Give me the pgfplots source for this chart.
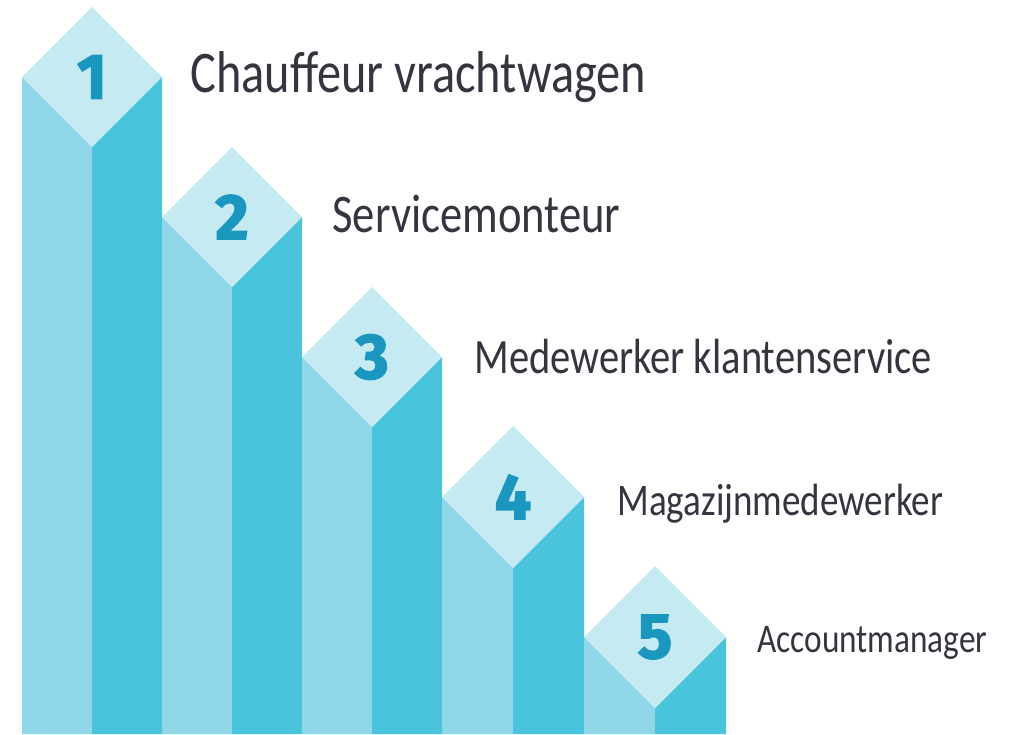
\documentclass[border=0pt]{standalone}
\usepackage{fontspec}
\setmainfont{Carlito}[FakeStretch=0.82]
\newfontfamily\numfont{Fira Sans}[BoldFeatures={FakeBold=2.5}]
\usepackage{pgfplots}
\pgfplotsset{compat=1.18}
\definecolor{faceL}{HTML}{8FD7E8}
\definecolor{faceR}{HTML}{4AC3DC}
\definecolor{faceT}{HTML}{C6EAF2}
\definecolor{numcol}{HTML}{1A97BF}
\definecolor{txt}{HTML}{34353F}
\tikzset{num/.style={text=numcol,font=\numfont\bfseries\fontsize{32}{32}\selectfont}}

\begin{document}
\begin{tikzpicture}
\begin{axis}[
  x=0.5pt,y=0.5pt,
  xmin=0,xmax=1015,ymin=0,ymax=734,
  hide axis,clip=false,
]
% full canvas
\path (axis cs:0,0) rectangle (axis cs:1015,734);
% column 1
\addplot[draw=none,fill=faceL] coordinates {(22,0)(22,657)(92,587)(92,0)};
\addplot[draw=none,fill=faceR] coordinates {(92,0)(92,587)(162,657)(162,0)};
\addplot[draw=none,fill=faceT] coordinates {(22,657)(92,727)(162,657)(92,587)};
% column 2
\addplot[draw=none,fill=faceL] coordinates {(162,0)(162,517)(232,447)(232,0)};
\addplot[draw=none,fill=faceR] coordinates {(232,0)(232,447)(302,517)(302,0)};
\addplot[draw=none,fill=faceT] coordinates {(162,517)(232,587)(302,517)(232,447)};
% column 3
\addplot[draw=none,fill=faceL] coordinates {(302,0)(302,377)(372,307)(372,0)};
\addplot[draw=none,fill=faceR] coordinates {(372,0)(372,307)(442,377)(442,0)};
\addplot[draw=none,fill=faceT] coordinates {(302,377)(372,447)(442,377)(372,307)};
% column 4
\addplot[draw=none,fill=faceL] coordinates {(442,0)(442,237)(513,166)(513,0)};
\addplot[draw=none,fill=faceR] coordinates {(513,0)(513,166)(584,237)(584,0)};
\addplot[draw=none,fill=faceT] coordinates {(442,237)(513,308)(584,237)(513,166)};
% column 5
\addplot[draw=none,fill=faceL] coordinates {(584,0)(584,97)(655,26)(655,0)};
\addplot[draw=none,fill=faceR] coordinates {(655,0)(655,26)(726,97)(726,0)};
\addplot[draw=none,fill=faceT] coordinates {(584,97)(655,168)(726,97)(655,26)};

% numbers
\node[num] at (axis cs:92,657) {1};
\node[num] at (axis cs:232,517) {2};
\node[num] at (axis cs:372,377) {3};
\node[num] at (axis cs:513,237) {4};
\node[num] at (axis cs:655,97) {5};

% labels
\node[anchor=base west,inner xsep=0pt,text=txt,font=\fontsize{29.5}{30}\selectfont] at (axis cs:190,641) {Chauffeur vrachtwagen};
\node[anchor=base west,inner xsep=0pt,text=txt,font=\fontsize{27.2}{28}\selectfont] at (axis cs:332,501) {Servicemonteur};
\node[anchor=base west,inner xsep=0pt,text=txt,font=\fontsize{24.7}{25}\selectfont] at (axis cs:474,361) {Medewerker klantenservice};
\node[anchor=base west,inner xsep=0pt,text=txt,font=\fontsize{22.6}{23}\selectfont] at (axis cs:617,219) {Magazijnmedewerker};
\node[anchor=base west,inner xsep=0pt,text=txt,font=\fontsize{20.3}{21}\selectfont] at (axis cs:757,82) {Accountmanager};
\end{axis}
\end{tikzpicture}
\end{document}
